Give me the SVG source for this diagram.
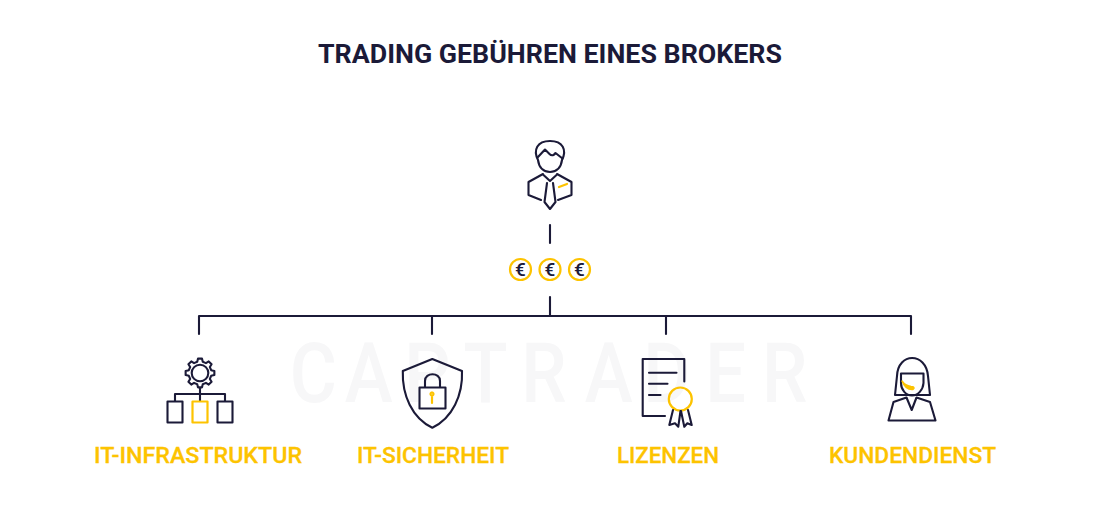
<svg xmlns="http://www.w3.org/2000/svg" width="1100" height="515" viewBox="0 0 1100 515">
<style>
.d{fill:none;stroke:#1b1a38;stroke-width:2.100;stroke-linecap:round;stroke-linejoin:round}
.y{fill:none;stroke:#fdc300;stroke-width:2.200;stroke-linecap:round;stroke-linejoin:round}
.t{font-family:"Roboto","Liberation Sans",sans-serif;font-weight:700}
.l{font-size:22px;fill:#fdc300;font-weight:500;stroke:#fdc300;stroke-width:.3}
.e{font-family:"Roboto","Liberation Sans",sans-serif;font-size:19px;font-weight:500;fill:#1b1a38;text-anchor:middle}
</style>
<rect width="1100" height="515" fill="#fff"/>
<text id="watermark" transform="scale(.86 1)" x="337 401 470 539 606 680 748 820 886" y="402" font-family="Roboto,'Liberation Sans',sans-serif" font-size="84" font-weight="500" fill="#f7f7f8">CAPTRADER</text>
<text id="title" class="t" x="318" y="63" font-size="26" fill="#1b1a38" textLength="464" lengthAdjust="spacingAndGlyphs">TRADING GEBÜHREN EINES BROKERS</text>
<g id="connectors" class="d">
<path d="M550 225V243"/>
<path d="M550 297V316"/>
<path d="M199 334V316H911V334"/>
<path d="M432 316V334"/>
<path d="M666 316V334"/>
</g>
<g id="broker">
<path class="d" d="M538 160C533 150 537 141 550 141C563 141 567 150 562 160C561 168 556 172 550 172C544 172 539 168 538 160Z"/>
<path class="d" d="M537.500 157.500L545 149.500L549.500 154C552 156.500 554 155 555.500 153L562.500 158.500"/>
<path class="d" d="M543 174L528.500 182V195L541 200M557 174L571.500 182V195L558 200"/>
<path class="d" d="M543.500 175L550 181L556.500 175"/>
<path class="d" d="M547 183L544.500 202L550 209L555.500 202L553 183"/>
<path class="y" d="M559 187L567 184"/>
</g>
<g id="coins">
<circle class="y" cx="520.500" cy="269.500" r="10.500"/>
<circle class="y" cx="550" cy="269.500" r="10.500"/>
<circle class="y" cx="579.500" cy="269.500" r="10.500"/>
<text class="e" x="520.500" y="276">€</text>
<text class="e" x="550" y="276">€</text>
<text class="e" x="579.500" y="276">€</text>
</g>
<g id="it-infrastruktur">
<circle class="d" cx="200" cy="373" r="8.300"/>
<path class="d" transform="translate(200 373)" d="M11.160 -2.780L14.360 -2.020V2.020L11.160 2.780L9.860 5.930L11.580 8.720L8.720 11.580L5.930 9.860L2.780 11.160L2.020 14.360H-2.020L-2.780 11.160L-5.930 9.860L-8.720 11.580L-11.580 8.720L-9.860 5.930L-11.160 2.780L-14.360 2.020V-2.020L-11.160 -2.780L-9.860 -5.930L-11.580 -8.720L-8.720 -11.580L-5.930 -9.860L-2.780 -11.160L-2.020 -14.360H2.020L2.780 -11.160L5.930 -9.860L8.720 -11.580L11.580 -8.720L9.860 -5.930Z"/>
<path class="d" d="M200 388V401M175 401V394H225V401"/>
<rect class="d" x="167.500" y="401.500" width="15" height="21"/>
<rect class="y" x="192.500" y="401.500" width="15" height="21"/>
<rect class="d" x="217.500" y="401.500" width="15" height="21"/>
<text class="t l" x="94" y="463" textLength="208" lengthAdjust="spacingAndGlyphs">IT-INFRASTRUKTUR</text>
</g>
<g id="it-sicherheit">
<path class="d" d="M432.300 359L402.800 371C402 395 412 418 432.300 427.700C452.500 418 463 395 462 371Z"/>
<rect class="d" x="419.500" y="387.500" width="26" height="21"/>
<path class="d" d="M425 387V381C425 372 440 372 440 381V387"/>
<path class="y" d="M432 392.500a1.500 1.500 0 1 1 -0.010 0M432 396V403"/>
<text class="t l" x="357" y="463" textLength="152" lengthAdjust="spacingAndGlyphs">IT-SICHERHEIT</text>
</g>
<g id="lizenzen">
<path class="d" d="M684.300 381.500V359H642.700V416H665"/>
<path class="d" d="M649 372.700H676.500M649 383.700H667.500M649 395H660.500"/>
<circle class="y" cx="680.300" cy="399" r="11.500"/>
<path class="d" d="M673 410L669.300 425L675 423.300L678.300 426.700L680.500 411M681 411L684.300 426.700L687.300 423.300L691.700 425L688 410"/>
<text class="t l" x="617" y="463" textLength="102" lengthAdjust="spacingAndGlyphs">LIZENZEN</text>
</g>
<g id="kundendienst">
<path class="d" d="M895 395L897 376C898 352 926 352 928 376L930 395Z"/>
<path class="d" d="M901 373.500H923.500V383C923 390 918 395.500 912 395.500C906 395.500 901 390 901 383Z"/>
<path class="d" d="M888.500 420.500L893.500 402L906.500 397.500L911.700 410L916.500 397.500L930 402L935.500 420.500Z"/>
<path d="M902 381C904 386 908 390 913 389.500C915 388 914 386.500 911 386.500C907 386 904 384 902 381Z" fill="#fdc300" stroke="#fdc300" stroke-width="1.500" stroke-linejoin="round"/>
<text class="t l" x="829" y="463" textLength="167" lengthAdjust="spacingAndGlyphs">KUNDENDIENST</text>
</g>
</svg>
